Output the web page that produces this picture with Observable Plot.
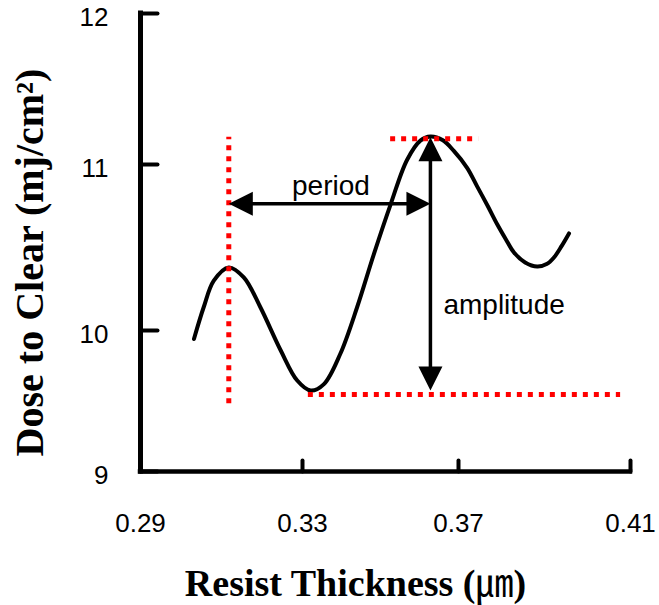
<!DOCTYPE html>
<html>
<head>
<meta charset="utf-8">
<script src="https://cdn.jsdelivr.net/npm/d3@7"></script>
<script src="https://cdn.jsdelivr.net/npm/@observablehq/plot@0.6"></script>
<style>
  html, body { margin: 0; padding: 0; background: #fff; }
  #chart svg { display: block; }
</style>
</head>
<body>
<div id="chart"></div>
<script>
// ---- data ----
const xTicks = [0.29, 0.33, 0.37, 0.41];
const xTickLabels = ["0.29", "0.33", "0.37", "0.41"];
const yTicks = [9, 10, 11, 12];
const yTickLabels = ["9", "10", "11", "12"];

const thickness = [0.3032, 0.3056, 0.3081, 0.3118, 0.3155, 0.3196, 0.3246, 0.3287, 0.3321, 0.3355,
                   0.3397, 0.3440, 0.3483, 0.3526, 0.3568, 0.3603, 0.3628, 0.3660, 0.3688, 0.3720,
                   0.3743, 0.3768, 0.3790, 0.3810, 0.3829, 0.3855, 0.3883, 0.3905, 0.3922, 0.3940,
                   0.3957];
const dose = [9.94, 10.14, 10.30, 10.38, 10.32, 10.14, 9.86, 9.645, 9.574, 9.62,
              9.835, 10.14, 10.46, 10.76, 11.03, 11.16, 11.185, 11.16, 11.09, 10.98,
              10.87, 10.75, 10.64, 10.55, 10.47, 10.41, 10.385, 10.40, 10.44, 10.51,
              10.585];

// annotation values (data units)
const periodStart = 0.3118, periodEnd = 0.3628, periodLevel = 10.763;
const amplitudeX = 0.3628, amplitudeTop = 11.18, amplitudeBottom = 9.574;
const guideVertical = {x: 0.3118, y1: 9.48, y2: 11.18};
const guideTop = {y: 11.17, x1: 0.3526, x2: 0.3747};
const guideBottom = {y: 9.546, x1: 0.3315, x2: 0.4077};
const amplitudeLabelY = 10.1;

const xTitleMain = "Resist Thickness (";
const xTitleUnit = "\u339B";
const xTitleEnd = ")";
const xTitle = xTitleMain + xTitleUnit + xTitleEnd;
const yTitle = "Dose to Clear (mj/cm\u00B2)";
const periodLabel = "period";
const amplitudeLabel = "amplitude";

// ---- chart ----
const curve = thickness.map((t, i) => ({thickness: t, dose: dose[i]}));

const lineShape = {draw(ctx, l) { ctx.moveTo(0, 0); ctx.lineTo(0, -l); }};
const headShape = {draw(ctx, l, r) { ctx.moveTo(0, -l); ctx.lineTo(-r, 0); ctx.lineTo(r, 0); ctx.closePath(); }};

const sans = "'Liberation Sans', Arial, sans-serif";
const serif = "'Liberation Serif', 'Times New Roman', 'Noto Sans CJK KR', serif";

const heads = [
  {x: periodStart, y: periodLevel, rotate: -90},
  {x: periodEnd, y: periodLevel, rotate: 90},
  {x: amplitudeX, y: amplitudeTop, rotate: 0},
  {x: amplitudeX, y: amplitudeBottom, rotate: 180}
];

const red = {stroke: "#ff0000", strokeWidth: 5, strokeDasharray: "5,6"};

const chart = Plot.plot({
  width: 659,
  height: 605,
  marginLeft: 140,
  marginRight: 29,
  marginTop: 13,
  marginBottom: 134,
  style: {background: "white", color: "black", overflow: "visible"},
  x: {type: "linear", domain: xTicks, range: [140, 302, 458, 630]},
  y: {type: "linear", domain: yTicks, range: [471, 330, 164, 13]},
  marks: [
    // axes lines
    Plot.ruleX([xTicks[0]], {y1: yTicks[0], y2: yTicks[yTicks.length - 1], stroke: "black", strokeWidth: 5, strokeLinecap: "square"}),
    Plot.ruleY([yTicks[0]], {x1: xTicks[0], x2: xTicks[xTicks.length - 1], stroke: "black", strokeWidth: 4.5, strokeLinecap: "square"}),
    // inward ticks
    Plot.vector(yTicks, {x: () => xTicks[0], y: d => d, length: 17, rotate: 90, anchor: "start", shape: lineShape, stroke: "black", strokeWidth: 4}),
    Plot.vector(xTicks, {x: d => d, y: () => yTicks[0], length: 11, rotate: 0, anchor: "start", shape: lineShape, stroke: "black", strokeWidth: 4}),
    // tick labels
    Plot.axisX(xTicks, {tickSize: 0, tickPadding: 42, label: null, tickFormat: d => xTickLabels[xTicks.indexOf(d)], fontSize: 26, fontFamily: sans}),
    Plot.axisY(yTicks, {tickSize: 0, tickPadding: 32, dy: 4, label: null, tickFormat: d => yTickLabels[yTicks.indexOf(d)], fontSize: 26, fontFamily: sans}),
    // curve
    Plot.line(curve, {x: "thickness", y: "dose", curve: "catmull-rom", stroke: "black", strokeWidth: 4}),
    // red guide lines
    Plot.ruleX([guideVertical], {x: "x", y1: "y1", y2: "y2", ...red}),
    Plot.ruleY([guideTop], {y: "y", x1: "x1", x2: "x2", ...red}),
    Plot.ruleY([guideBottom], {y: "y", x1: "x1", x2: "x2", ...red}),
    // arrows
    Plot.arrow([{x1: periodStart, x2: periodEnd, y: periodLevel}], {x1: "x1", x2: "x2", y1: "y", y2: "y", headLength: 0, insetStart: 8, insetEnd: 8, stroke: "black", strokeWidth: 3.5}),
    Plot.arrow([{x: amplitudeX, y1: amplitudeTop, y2: amplitudeBottom}], {x1: "x", x2: "x", y1: "y1", y2: "y2", headLength: 0, insetStart: 8, insetEnd: 8, stroke: "black", strokeWidth: 3.5}),
    Plot.vector(heads, {x: "x", y: "y", rotate: "rotate", length: 24, r: 12, anchor: "end", shape: headShape, fill: "black", stroke: "none"}),
    // annotation labels
    Plot.text([periodLabel], {x: () => (periodStart + periodEnd) / 2, y: () => periodLevel, text: d => d, lineAnchor: "bottom", dy: -9, fontSize: 28, fontFamily: sans, fill: "black"}),
    Plot.text([amplitudeLabel], {x: () => amplitudeX, y: () => amplitudeLabelY, text: d => d, lineAnchor: "bottom", textAnchor: "start", dx: 13, fontSize: 28, fontFamily: sans, fill: "black"}),
    // axis titles
    Plot.text([xTitle], {frameAnchor: "bottom", text: d => d, textAnchor: "middle", dx: -30, dy: 112, lineAnchor: "middle", fontSize: 38, fontWeight: "bold", fontFamily: serif, fill: "black", className: "xtitle"}),
    Plot.text([yTitle], {frameAnchor: "left", text: d => d, textAnchor: "middle", rotate: -90, dx: -110, dy: 20, lineAnchor: "middle", fontSize: 40, fontWeight: "bold", fontFamily: serif, fill: "black"})
  ]
});

// render the unit symbol of the x title in a regular-weight CJK face, as in the original
const xt = chart.querySelector(".xtitle text");
if (xt) {
  xt.textContent = "";
  xt.append(document.createTextNode(xTitleMain));
  const ts = document.createElementNS("http://www.w3.org/2000/svg", "tspan");
  ts.setAttribute("font-weight", "normal");
  ts.setAttribute("font-family", "'Noto Sans CJK KR', sans-serif");
  ts.textContent = xTitleUnit;
  xt.append(ts);
  xt.append(document.createTextNode(xTitleEnd));
}

document.getElementById("chart").append(chart);
</script>
</body>
</html>
